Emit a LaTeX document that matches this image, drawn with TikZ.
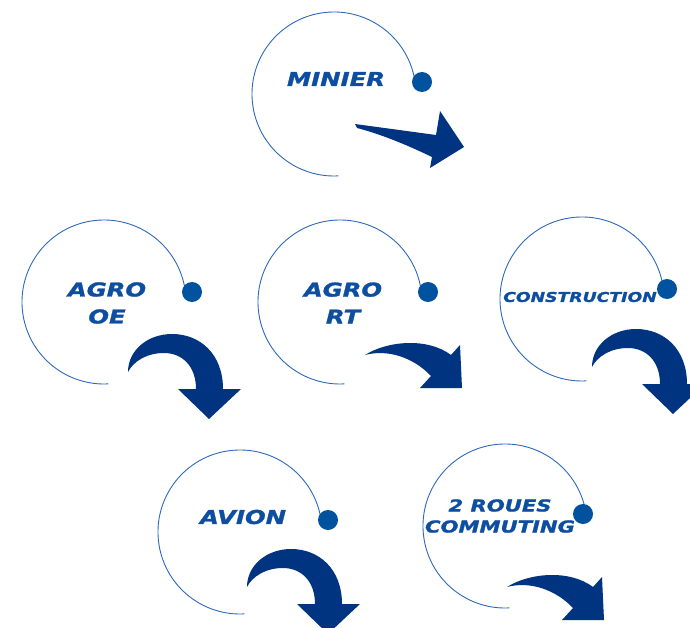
\documentclass[tikz,border=0pt]{standalone}
\usepackage{fontspec}
\newfontfamily\labelfont{DejaVu Sans}[FakeStretch=1.28, FakeBold=1.4]
\usepackage{tikz}
\usetikzlibrary{calc}

\definecolor{arcblue}{RGB}{45,105,185}
\definecolor{textblue}{RGB}{14,78,160}
\definecolor{dotblue}{RGB}{0,82,158}
\definecolor{navy}{RGB}{0,52,128}

\tikzset{
	ring/.style={draw=arcblue, line width=0.9pt},
	knob/.style={fill=dotblue},
	tag/.style={text=textblue, align=center, inner sep=0pt,
		font={\labelfont\bfseries\itshape\fontsize{19}{27}\selectfont}},
	bend arrow/.pic={
		\fill[navy] (0,0) .. controls (0,-22) and (20,-38) .. (44,-38)
			.. controls (72,-38) and (95,-18) .. (95,17) -- (113,17) -- (81,47)
			-- (50,17) -- (68,17) .. controls (68,-6) and (54,-19) .. (36,-19)
			.. controls (18,-19) and (5,-10) .. (0,0) -- cycle;
	},
	flat arrow/.pic={
		\fill[navy] (0,0) .. controls (22,-14) and (62,-18) .. (86,0)
			-- (95,-10) -- (97,33) -- (55,33) -- (66,21)
			.. controls (48,2) and (22,-6) .. (0,0) -- cycle;
	}
}

\begin{document}
\begin{tikzpicture}[x=1pt, y=-1pt]
	\useasboundingbox (0,0) rectangle (690,628);
	\clip (0,0) rectangle (690,628);

	% minier
	\coordinate (minier) at (334,94);
	\draw[ring] ([shift={(-10:82)}]minier) arc[start angle=-10, end angle=-273, radius=82];
	\fill[knob] (422,82) circle[radius=10];
	\node[tag] (minier label) at (336,79) {MINIER};
	\fill[navy] (355,124) -- (436,135) -- (440,111) -- (464,147) -- (430,168) -- (432,157)
		.. controls (405,144) and (380,134) .. (357,128) -- cycle;

	% agro oe
	\coordinate (agro oe) at (104,302);
	\draw[ring] ([shift={(-10:82)}]agro oe) arc[start angle=-10, end angle=-273, radius=82];
	\fill[knob] (192,292) circle[radius=10];
	\node[tag] (agro oe label) at (107,303) {AGRO\\OE};
	\pic at (128,372) {bend arrow};

	% agro rt
	\coordinate (agro rt) at (340,302);
	\draw[ring] ([shift={(-10:82)}]agro rt) arc[start angle=-10, end angle=-273, radius=82];
	\fill[knob] (428,292) circle[radius=10];
	\node[tag] (agro rt label) at (343,303) {AGRO\\RT};
	\pic at (365,355) {flat arrow};

	% construction
	\coordinate (construction) at (582,299);
	\draw[ring] ([shift={(-10:82)}]construction) arc[start angle=-10, end angle=-273, radius=82];
	\fill[knob] (667,289) circle[radius=10];
	\node[tag, font={\labelfont\bfseries\itshape\fontsize{13.5}{16}\selectfont}]
		(construction label) at (580,297) {CONSTRUCTION};
	\pic at (592,367) {bend arrow};

	% avion
	\coordinate (avion) at (240,532);
	\draw[ring] ([shift={(-10:82)}]avion) arc[start angle=-10, end angle=-273, radius=82];
	\fill[knob] (328,520) circle[radius=10];
	\node[tag] (avion label) at (243,517) {AVION};
	\pic at (247,587) {bend arrow};

	% 2 roues
	\coordinate (roues) at (505,526);
	\draw[ring] ([shift={(-10:82)}]roues) arc[start angle=-10, end angle=-273, radius=82];
	\fill[knob] (583,514) circle[radius=10];
	\node[tag, font={\labelfont\bfseries\itshape\fontsize{16.5}{21}\selectfont}]
		(roues label) at (500,516) {2 ROUES\\COMMUTING};
	\pic at (507,587) {flat arrow};
\end{tikzpicture}
\end{document}
